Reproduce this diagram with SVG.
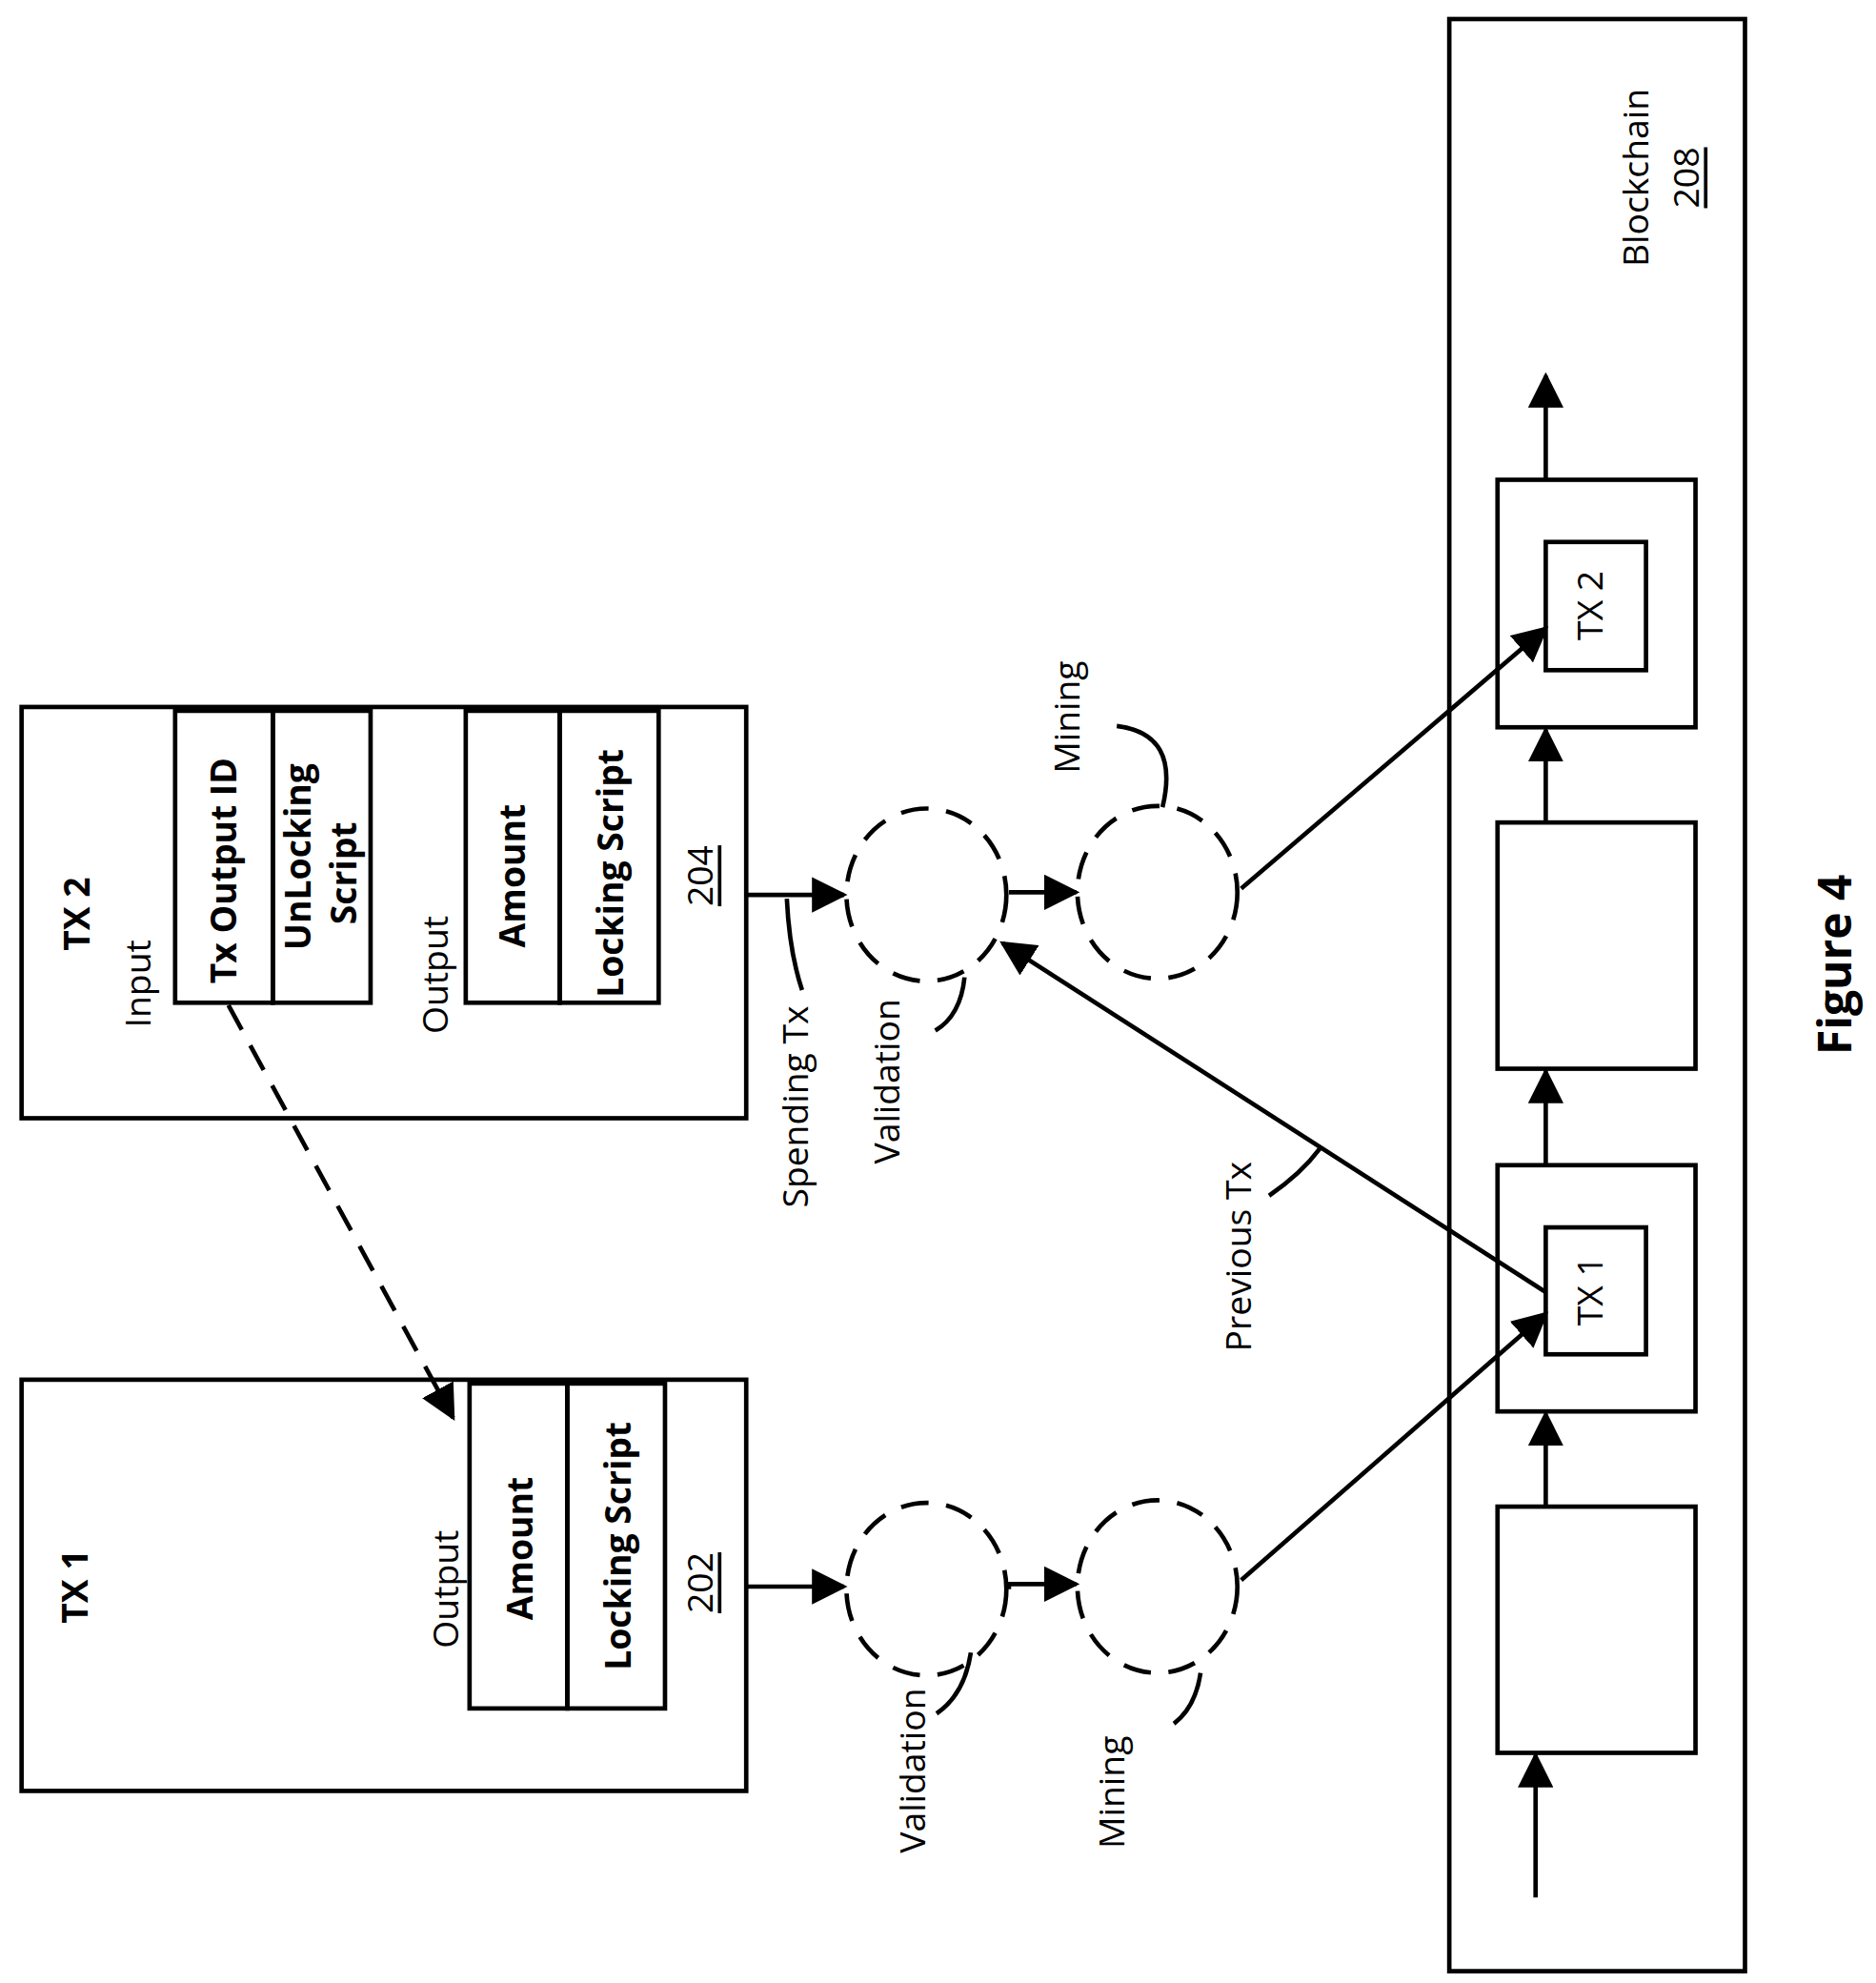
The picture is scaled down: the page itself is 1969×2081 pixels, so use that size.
<svg xmlns="http://www.w3.org/2000/svg" width="1969" height="2081" viewBox="0 0 1969 2081">
<defs>
<style>
.b{fill:none;stroke:#000;stroke-width:3.5}
.d{fill:none;stroke:#000;stroke-width:3.5;stroke-dasharray:22 14}
.t{font-family:"Open Sans","Liberation Sans",sans-serif;font-size:28px;fill:#000;text-anchor:middle;dominant-baseline:central}
.bo{font-weight:bold}
</style>
<marker id="a" viewBox="0 0 10 10" refX="9" refY="5" markerWidth="8" markerHeight="8" orient="auto"><path d="M0,0 L10,5 L0,10 z"/></marker>
</defs>
<rect width="1969" height="2081" fill="#fff"/>
<g transform="scale(1.332)">
<g id="blockchain">
<rect class="b" x="1142" y="15" width="233" height="1538"/>
<text class="t" transform="translate(1288,140) rotate(-90)">Blockchain</text>
<text class="t" transform="translate(1328,140) rotate(-90)" text-decoration="underline">208</text>
</g>
<g id="block1"><rect class="b" x="1180" y="1187" width="156" height="194"/></g>
<g id="block2"><rect class="b" x="1180" y="918" width="156" height="194"/><rect class="b" x="1218" y="967" width="79" height="100"/><text class="t" transform="translate(1252,1017) rotate(-90)">TX 1</text></g>
<g id="block3"><rect class="b" x="1180" y="648" width="156" height="194"/></g>
<g id="block4"><rect class="b" x="1180" y="378" width="156" height="195"/><rect class="b" x="1218" y="427" width="79" height="101"/><text class="t" transform="translate(1252,477) rotate(-90)">TX 2</text></g>
<g id="tx1">
<rect class="b" x="17" y="1087" width="571" height="324"/>
<rect class="b" x="370" y="1090" width="77" height="256"/>
<rect class="b" x="447" y="1090" width="77" height="256"/>
<text class="t bo" transform="translate(58,1250) rotate(-90)">TX 1</text>
<text class="t" transform="translate(350,1252) rotate(-90)">Output</text>
<text class="t bo" transform="translate(409,1220) rotate(-90)">Amount</text>
<text class="t bo" transform="translate(486,1218) rotate(-90)">Locking Script</text>
<text class="t" transform="translate(551,1247) rotate(-90)" text-decoration="underline">202</text>
</g>
<g id="tx2">
<rect class="b" x="17" y="557" width="571" height="324"/>
<rect class="b" x="138" y="560" width="77" height="230"/>
<rect class="b" x="215" y="560" width="77" height="230"/>
<rect class="b" x="367" y="560" width="74" height="230"/>
<rect class="b" x="441" y="560" width="78" height="230"/>
<text class="t bo" transform="translate(60,720) rotate(-90)">TX 2</text>
<text class="t" transform="translate(108,775) rotate(-90)">Input</text>
<text class="t bo" transform="translate(175,686) rotate(-90)">Tx Output ID</text>
<text class="t bo" transform="translate(234,675) rotate(-90)">UnLocking</text>
<text class="t bo" transform="translate(270,688) rotate(-90)">Script</text>
<text class="t" transform="translate(342,768) rotate(-90)">Output</text>
<text class="t bo" transform="translate(403,690) rotate(-90)">Amount</text>
<text class="t bo" transform="translate(480,688) rotate(-90)">Locking Script</text>
<text class="t" transform="translate(551,690) rotate(-90)" text-decoration="underline">204</text>
</g>
<g id="val1"><ellipse class="d" cx="730" cy="1252" rx="63" ry="68"/><path class="b" d="M765,1302 Q760,1335 738,1350"/><text class="t" transform="translate(718,1395) rotate(-90)">Validation</text></g>
<g id="mine1"><ellipse class="d" cx="912" cy="1250" rx="63" ry="68"/><path class="b" d="M946,1318 Q942,1345 925,1358"/><text class="t" transform="translate(875,1412) rotate(-90)">Mining</text></g>
<g id="val2"><ellipse class="d" cx="730" cy="705" rx="63" ry="68"/><path class="b" d="M760,770 Q757,800 737,812"/><text class="t" transform="translate(698,852) rotate(-90)">Validation</text></g>
<g id="mine2"><ellipse class="d" cx="912" cy="703" rx="63" ry="68"/><path class="b" d="M880,572 Q930,578 916,636"/><text class="t" transform="translate(840,565) rotate(-90)">Mining</text></g>
<g id="labels">
<path class="b" d="M620,708 Q622,750 632,780"/><text class="t" transform="translate(626,872) rotate(-90)">Spending Tx</text>
<path class="b" d="M1000,942 Q1025,925 1040,905"/><text class="t" transform="translate(975,990) rotate(-90)">Previous Tx</text>
<text class="t bo" transform="translate(1445,760) rotate(-90)" style="font-size:36px">Figure  4</text>
</g>
<g id="connectors" fill="none" stroke="#000" stroke-width="3.5">
<line x1="1210" y1="1495" x2="1210" y2="1383" marker-end="url(#a)"/>
<line x1="1218" y1="1187" x2="1218" y2="1114" marker-end="url(#a)"/>
<line x1="1218" y1="918" x2="1218" y2="844" marker-end="url(#a)"/>
<line x1="1218" y1="648" x2="1218" y2="575" marker-end="url(#a)"/>
<line x1="1218" y1="378" x2="1218" y2="296" marker-end="url(#a)"/>
<line x1="588" y1="1250" x2="665" y2="1250" marker-end="url(#a)"/>
<path d="M795,1252 L795,1248 L848,1248" marker-end="url(#a)"/>
<line x1="588" y1="705" x2="665" y2="705" marker-end="url(#a)"/>
<line x1="795" y1="703" x2="848" y2="703" marker-end="url(#a)"/>
<line x1="978" y1="1245" x2="1218" y2="1035" marker-end="url(#a)"/>
<line x1="978" y1="700" x2="1218" y2="495" marker-end="url(#a)"/>
<line x1="1218" y1="1018" x2="790" y2="743" marker-end="url(#a)"/>
<line x1="180" y1="792" x2="357" y2="1117" stroke-dasharray="22 14" marker-end="url(#a)"/>
</g>
</g>
</svg>
